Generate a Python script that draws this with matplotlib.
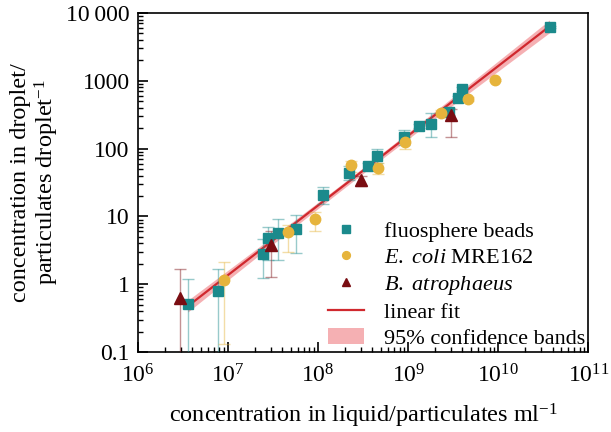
import numpy as np
import matplotlib
matplotlib.use("Agg")
import matplotlib.pyplot as plt
from matplotlib.ticker import FixedLocator, FixedFormatter, LogLocator, NullFormatter

plt.rcParams['font.family'] = ['Liberation Serif', 'DejaVu Serif']
plt.rcParams['mathtext.fontset'] = 'custom'
plt.rcParams['mathtext.rm'] = 'Liberation Serif'
plt.rcParams['mathtext.it'] = 'Liberation Serif:italic'

# fluosphere beads
beads_x = [3.56e6, 7.7e6, 2.45e7, 2.78e7, 3.6e7, 5.7e7, 1.14e8, 2.2e8, 3.6e8, 4.5e8,
           9.0e8, 1.33e9, 1.8e9, 2.86e9, 3.6e9, 4.0e9, 3.7e10]
beads_y = [0.51, 0.79, 2.79, 4.8, 5.7, 6.5, 20.7, 43.7, 55, 77,
           148, 215, 231, 347, 557, 757, 6220]
beads_lo = [0.05, 0.05, 1.25, 2.3, 2.3, 2.9, 15, 35, 48, 62,
            112, 200, 148, 310, 520, 700, 6000]
beads_hi = [1.2, 1.7, 4.6, 7.0, 9.2, 10.5, 27, 55, 62, 100,
            185, 230, 330, 400, 600, 800, 6400]

# E. coli MRE162
ecoli_x = [9.0e6, 4.6e7, 9.3e7, 2.3e8, 4.6e8, 9.2e8, 2.33e9, 4.6e9, 9.3e9]
ecoli_y = [1.15, 5.9, 9.2, 57, 52, 125, 335, 540, 1030]
ecoli_lo = [0.13, 3.0, 6.1, 45, 42, 100, 300, 500, 980]
ecoli_hi = [2.1, 7.5, 11.5, 66, 62, 150, 370, 580, 1080]

# B. atrophaeus
batro_x = [2.93e6, 3.0e7, 3.0e8, 3.0e9]
batro_y = [0.63, 3.8, 34, 313]
batro_lo = [0.03, 1.3, 28, 150]
batro_hi = [1.7, 6.0, 40, 380]

y_ticks = [0.1, 1, 10, 100, 1000, 10000]
y_labels = ['0.1', '1', '10', '100', '1000', '10\u2009000']
x_ticks = [1e6, 1e7, 1e8, 1e9, 1e10, 1e11]
x_labels = ['$10^{6}$', '$10^{7}$', '$10^{8}$', '$10^{9}$', '$10^{10}$', '$10^{11}$']

teal = '#1b8a8c'
yellow = '#e6b43c'
darkred = '#7a0d12'

fig = plt.figure(figsize=(6.11, 4.32), dpi=100)
ax = fig.add_axes([0.226, 0.185, 0.737, 0.785])

def err(y, lo, hi):
    y = np.array(y)
    return [y - np.array(lo), np.array(hi) - y]

# linear fit (log space) on the bead data, with 95% confidence band
fx = np.log10(np.array(beads_x))
fy = np.log10(np.array(beads_y))
slope, icpt = np.polyfit(fx, fy, 1)
n = len(fx)
resid = fy - (slope * fx + icpt)
s = np.sqrt(np.sum(resid ** 2) / (n - 2))
sxx = np.sum((fx - fx.mean()) ** 2)
xs = np.linspace(fx.min(), fx.max(), 200)
ys = slope * xs + icpt
ci = 2.13 * s * np.sqrt(1 / n + (xs - fx.mean()) ** 2 / sxx)
ax.fill_between(10 ** xs, 10 ** (ys - ci), 10 ** (ys + ci), color='#f4a3a6',
                lw=0, alpha=0.85, label='95% confidence bands', zorder=1)
ax.plot(10 ** xs, 10 ** ys, color='#d0282e', lw=1.6, label='linear fit', zorder=2)

ax.errorbar(beads_x, beads_y, yerr=err(beads_y, beads_lo, beads_hi), fmt='none',
            ecolor=teal, alpha=0.45, capsize=4, elinewidth=1.0, zorder=3)
ax.errorbar(ecoli_x, ecoli_y, yerr=err(ecoli_y, ecoli_lo, ecoli_hi), fmt='none',
            ecolor=yellow, alpha=0.45, capsize=4, elinewidth=1.0, zorder=3)
ax.errorbar(batro_x, batro_y, yerr=err(batro_y, batro_lo, batro_hi), fmt='none',
            ecolor=darkred, alpha=0.45, capsize=4, elinewidth=1.0, zorder=3)

ax.plot(beads_x, beads_y, 's', color=teal, ms=7, ls='none', label='fluosphere beads', zorder=4)
ax.plot(ecoli_x, ecoli_y, 'o', color=yellow, ms=7.5, ls='none',
        label='$\\mathit{E.\\ coli}$ MRE162', zorder=4)
ax.plot(batro_x, batro_y, '^', color=darkred, ms=8, ls='none',
        label='$\\mathit{B.\\ atrophaeus}$', zorder=5)

ax.set_xscale('log')
ax.set_yscale('log')
ax.set_xlim(1e6, 1e11)
ax.set_ylim(0.1, 10000)
ax.xaxis.set_major_locator(FixedLocator(x_ticks))
ax.xaxis.set_major_formatter(FixedFormatter(x_labels))
ax.yaxis.set_major_locator(FixedLocator(y_ticks))
ax.yaxis.set_major_formatter(FixedFormatter(y_labels))
ax.xaxis.set_minor_locator(LogLocator(base=10, subs=np.arange(2, 10), numticks=20))
ax.yaxis.set_minor_locator(LogLocator(base=10, subs=np.arange(2, 10), numticks=20))
ax.xaxis.set_minor_formatter(NullFormatter())
ax.yaxis.set_minor_formatter(NullFormatter())
ax.tick_params(which='major', direction='in', length=7, width=1.2, labelsize=17)
ax.tick_params(axis='x', which='major', pad=9)
ax.tick_params(axis='y', which='major', pad=6)
ax.tick_params(which='minor', direction='in', length=3.5, width=1)
for sp in ax.spines.values():
    sp.set_linewidth(1.2)

ax.set_xlabel('concentration in liquid/particulates ml$^{-1}$', fontsize=17.5, labelpad=10)
ax.set_ylabel('concentration in droplet/\nparticulates droplet$^{-1}$', fontsize=17.5,
              labelpad=4, linespacing=1.05)

h, l = ax.get_legend_handles_labels()
order = [2, 3, 4, 1, 0]
ax.legend([h[i] for i in order], [l[i] for i in order], loc='lower right',
          frameon=False, fontsize=16, handlelength=1.6, handletextpad=0.9,
          labelspacing=0.25, borderaxespad=0.0, borderpad=0.15, markerscale=0.75)

fig.savefig('out.png', dpi=100)
